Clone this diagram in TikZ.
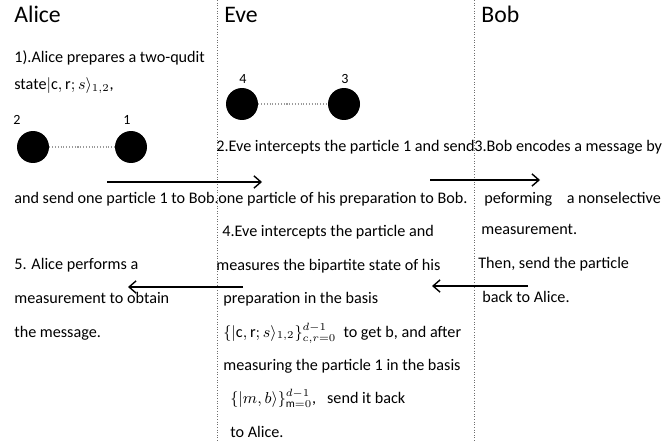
\documentclass[tikz,border=0pt]{standalone}
\usepackage{fontspec}
\setmainfont{Carlito}
\usetikzlibrary{arrows.meta}
\definecolor{divider}{HTML}{6E6E6E}
\definecolor{bond}{HTML}{9A9A9A}

\begin{document}
\begin{tikzpicture}[
  x=0.02cm, y=-0.02cm,
  title/.style={anchor=base west, inner sep=0pt, font=\fontsize{13.5}{16}\selectfont},
  txt/.style={anchor=base west, inner sep=0pt, font=\fontsize{9.2}{11}\selectfont},
  ball/.style={circle, fill=black, minimum size=0.64cm, inner sep=0pt},
  num/.style={anchor=base, inner sep=0pt, font=\fontsize{8}{9}\selectfont},
  divide/.style={densely dotted, draw=divider, line width=0.5pt},
  pair/.style={densely dotted, draw=bond, line width=0.6pt},
  send/.style={-{Straight Barb[length=4pt,width=7pt]}, line width=0.8pt}
]
\useasboundingbox (0,0) rectangle (662,442);

% columns
\coordinate (d1top) at (217,0);
\coordinate (d1bot) at (217,442);
\coordinate (d2top) at (474,0);
\coordinate (d2bot) at (474,442);
\draw[divide] (d1top) -- (d1bot);
\draw[divide] (d2top) -- (d2bot);

\node[title] (alice) at (14,23) {Alice};
\node[title] (eve) at (224,23) {Eve};
\node[title] (bob) at (481,23) {Bob};

% Alice's pair
\node[ball] (p2) at (33,147) {};
\node[ball] (p1) at (131,147) {};
\node[num] (n2) at (17,125) {2};
\node[num] (n1) at (127,125) {1};
\draw[pair] (p2) -- (p1);

% Eve's pair
\node[ball] (p4) at (242,104) {};
\node[ball] (p3) at (344,104) {};
\node[num] (n4) at (243,84) {4};
\node[num] (n3) at (345,84) {3};
\draw[pair] (p4) -- (p3);

% Alice
\node[txt] (a1) at (14,63) {1).Alice prepares a two-qudit};
\node[txt] (a2) at (14,90) {state$|\mathrm{c},\mathrm{r};s\rangle_{1,2}$,};
\node[txt] (a3) at (14,203) {and send one particle 1 to Bob.};
\node[txt] (a4) at (14,269) {5. Alice performs a};
\node[txt] (a5) at (14,303) {measurement to obtain};
\node[txt] (a6) at (14,337) {the message.};

% Eve
\node[txt] (e1) at (216,152) {2.Eve intercepts the particle 1 and send};
\node[txt] (e2) at (218,203) {one particle of his preparation to Bob.};
\node[txt] (e3) at (222,236) {4.Eve intercepts the particle and};
\node[txt] (e4) at (216,270) {measures the bipartite state of his};
\node[txt] (e5) at (223,303) {preparation in the basis};
\node[txt] (e6) at (223,337) {$\{|\mathrm{c},\mathrm{r};s\rangle_{1,2}\}_{c,r=0}^{d-1}$\ \ to get b, and after};
\node[txt] (e7) at (223,370) {measuring the particle 1 in the basis};
\node[txt] (e8) at (230,403) {$\{|m,b\rangle\}_{\mathrm{m}=0}^{d-1}$,\ \ \ send it back};
\node[txt] (e9) at (230,437) {to Alice.};

% Bob
\node[txt] (b1) at (474,152) {3.Bob encodes a message by};
\node[txt] (b2) at (484,203) {peforming\ \ \ \ a nonselective};
\node[txt] (b3) at (481,235) {measurement.};
\node[txt] (b4) at (478,268) {Then, send the particle};
\node[txt] (b5) at (482,302) {back to Alice.};

% transfers
\coordinate (s1) at (107,182);
\coordinate (t1) at (262,182);
\coordinate (s2) at (430,180);
\coordinate (t2) at (540,180);
\coordinate (s3) at (243,287);
\coordinate (t3) at (128,287);
\coordinate (s4) at (528,286);
\coordinate (t4) at (432,286);
\draw[send] (s1) -- (t1);
\draw[send] (s2) -- (t2);
\draw[send] (s3) -- (t3);
\draw[send] (s4) -- (t4);
\end{tikzpicture}
\end{document}
